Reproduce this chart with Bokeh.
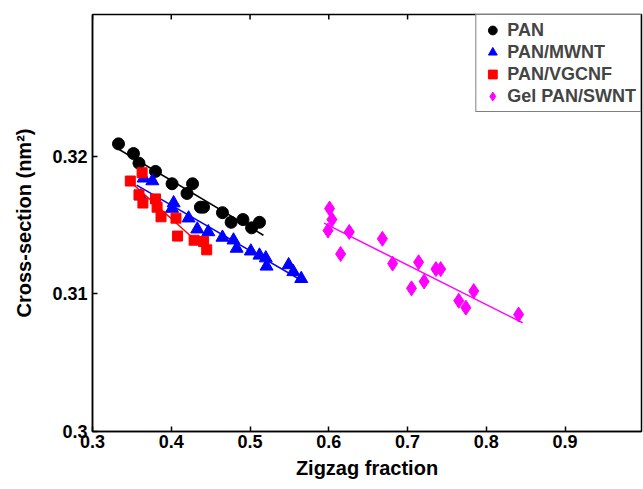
import numpy as np
from bokeh.plotting import figure
from bokeh.models import FixedTicker, Legend, LegendItem, Range1d
from bokeh.embed import file_html
from bokeh.resources import INLINE

# ---- data ----
pan_x = [0.333, 0.352, 0.359, 0.380, 0.401, 0.427, 0.420, 0.437, 0.441, 0.465, 0.476, 0.491, 0.502, 0.512]
pan_y = [0.3209, 0.3202, 0.3195, 0.3189, 0.3180, 0.3180, 0.3173, 0.3163, 0.3163, 0.3159, 0.3152, 0.3154, 0.3148, 0.3152]

mwnt_x = [0.365, 0.376, 0.361, 0.403, 0.401, 0.422, 0.433, 0.447, 0.465, 0.479, 0.483, 0.501,
          0.512, 0.520, 0.521, 0.549, 0.555, 0.565]
mwnt_y = [0.3184, 0.3182, 0.3171, 0.3166, 0.3162, 0.3155, 0.3147, 0.3145, 0.3141, 0.3139, 0.3133, 0.3131,
          0.3128, 0.3126, 0.3120, 0.3121, 0.3116, 0.3111]

vgcnf_x = [0.363, 0.348, 0.359, 0.364, 0.380, 0.382, 0.387, 0.406, 0.408, 0.429, 0.441, 0.445]
vgcnf_y = [0.3188, 0.3182, 0.3172, 0.3166, 0.3169, 0.3163, 0.3156, 0.3155, 0.3142, 0.3139, 0.3138, 0.3132]

swnt_x = [0.601, 0.604, 0.599, 0.626, 0.615, 0.668, 0.681, 0.714, 0.736, 0.742, 0.721, 0.705,
          0.784, 0.765, 0.774, 0.841]
swnt_y = [0.3162, 0.3154, 0.3146, 0.3145, 0.3129, 0.3140, 0.3122, 0.3123, 0.3118, 0.3118, 0.3109, 0.3104,
          0.3102, 0.3095, 0.3090, 0.3085]

series_names = ["PAN", "PAN/MWNT", "PAN/VGCNF", "Gel PAN/SWNT"]
x_ticks = [0.3, 0.4, 0.5, 0.6, 0.7, 0.8, 0.9]
y_ticks = [0.30, 0.31, 0.32]
x_tick_labels = ["0.3", "0.4", "0.5", "0.6", "0.7", "0.8", "0.9"]
y_tick_labels = ["0.3", "0.31", "0.32"]

FONT = "Liberation Sans"
X_END = 0.997
Y_END = 0.3303

p = figure(width=643, height=489, output_backend="svg", toolbar_location=None,
           x_range=Range1d(0.3, X_END), y_range=Range1d(0.3, Y_END),
           min_border_left=92, min_border_right=2, min_border_top=14, min_border_bottom=58)
p.background_fill_color = "white"
p.border_fill_color = "white"
p.xgrid.visible = False
p.ygrid.visible = False
p.outline_line_color = "black"
p.outline_line_width = 1.5

for ax in (p.xaxis[0], p.yaxis[0]):
    ax.major_tick_in = 5
    ax.major_tick_out = 0
    ax.minor_tick_in = 0
    ax.minor_tick_out = 0
    ax.axis_line_width = 1.5
    ax.major_tick_line_width = 1.5
    ax.major_label_text_font = FONT
    ax.major_label_text_font_style = "bold"
    ax.major_label_text_font_size = "18px"
    ax.major_label_text_color = "black"
    ax.axis_label_text_font = FONT
    ax.axis_label_text_font_style = "bold"
    ax.axis_label_text_font_size = "20px"
    ax.axis_label_text_color = "black"

p.xaxis[0].ticker = FixedTicker(ticks=x_ticks)
p.yaxis[0].ticker = FixedTicker(ticks=y_ticks)
p.xaxis[0].major_label_overrides = dict(zip(x_ticks, x_tick_labels))
p.yaxis[0].major_label_overrides = dict(zip(y_ticks, y_tick_labels))
p.xaxis[0].axis_label = "Zigzag fraction"
p.yaxis[0].axis_label = "Cross-section (nm\u00b2)"
p.xaxis[0].major_label_standoff = 3
p.xaxis[0].axis_label_standoff = 6
p.yaxis[0].major_label_standoff = 5
p.yaxis[0].axis_label_standoff = 14

# inward ticks along the top edge of the box
p.scatter(x_ticks, [Y_END] * len(x_ticks), marker="dash", angle=np.pi / 2, size=10,
          line_color="black", line_width=1.5)

colors = ["black", "#0000ff", "#ff0000", "#ff00ff"]
xs = [pan_x, mwnt_x, vgcnf_x, swnt_x]
ys = [pan_y, mwnt_y, vgcnf_y, swnt_y]
markers = ["circle", "triangle", "square", "diamond"]
sizes = [12, 13, 10, 15]

items = []
for name, x, y, c, m, s in zip(series_names, xs, ys, colors, markers, sizes):
    xa = np.array(x)
    ya = np.array(y)
    k, b = np.polyfit(xa, ya, 1)
    lx = np.array([xa.min() - 0.005, xa.max() + 0.005])
    p.line(lx, k * lx + b, line_color=c, line_width=1.5)
    r = p.scatter(x, y, marker=m, size=s, fill_color=c, line_color=c)
    items.append(LegendItem(label=name, renderers=[r]))

legend = Legend(items=items, location="top_right", margin=0, padding=4, spacing=0,
                label_text_font=FONT, label_text_font_style="bold", label_text_font_size="18px",
                label_height=22, glyph_height=22, glyph_width=24, label_standoff=3,
                border_line_color="black", border_line_width=1.5, background_fill_color="white",
                background_fill_alpha=1)
p.add_layout(legend)

open("out.html", "w").write(file_html(p, INLINE))
